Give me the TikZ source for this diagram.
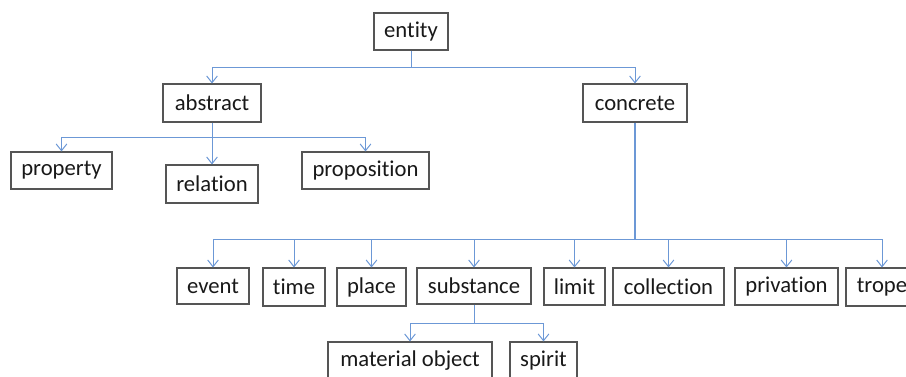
\documentclass[tikz,border=0pt]{standalone}
\usepackage{fontspec}
\setmainfont[Ligatures=NoCommon]{Carlito}
\usetikzlibrary{arrows.meta}
\definecolor{lineblue}{HTML}{6C98D6}
\definecolor{boxgray}{HTML}{555555}
\tikzset{
  box/.style 2 args={draw=boxgray, line width=0.8pt, inner sep=0pt, fill=white,
    minimum width=#1*0.75pt, minimum height=#2*0.75pt,
    font=\fontsize{17}{20}\selectfont, text=black!90},
  conn/.style={draw=lineblue, line width=0.75pt},
  arr/.style={conn, -{Straight Barb[length=5pt,width=8pt]}},
  trunk/.style={draw=lineblue, line width=1.4pt}
}
\begin{document}
\begin{tikzpicture}[x=0.75pt, y=-0.75pt]
\useasboundingbox (0,0) rectangle (906,376);
% nodes
\node[box={74}{37}] (entity) at (411,31.5) {entity};
\node[box={98}{38}] (abstract) at (212,103) {abstract};
\node[box={104}{38}] (concrete) at (635,103) {concrete};
\node[box={101}{37}] (property) at (61.5,170.5) {property};
\node[box={92}{38}] (relation) at (212,184) {relation};
\node[box={127}{37}] (proposition) at (365.5,170.5) {proposition};
\node[box={72}{36}] (event) at (213,286) {event};
\node[box={62}{38}] (time) at (294,287) {time};
\node[box={69}{38}] (place) at (371.5,287) {place};
\node[box={114}{36}] (substance) at (474,286) {substance};
\node[box={61}{37}] (limit) at (574.5,286.5) {limit};
\node[box={111}{37}] (collection) at (668.5,286.5) {collection};
\node[box={103}{37}] (privation) at (786.5,286.5) {privation};
\node[box={72}{38}] (trope) at (882,287) {trope};
\node[box={164}{38}] (material) at (410,361) {material object};
\node[box={67}{38}] (spirit) at (543.5,361) {spirit};
% junctions
\coordinate (j1) at (411,67.5);
\coordinate (j2) at (212,137);
\coordinate (j3) at (635,239);
\coordinate (j4) at (474,323);
% connectors
\draw[conn] (entity.south) -- (j1);
\draw[arr] (j1) -| (abstract.north);
\draw[arr] (j1) -| (concrete.north);
\draw[arr] (abstract.south) -- (relation.north);
\draw[arr] (j2) -| (property.north);
\draw[arr] (j2) -| (proposition.north);
\draw[trunk] (concrete.south) -- (j3);
\foreach \n in {event,time,place,substance,limit,collection,privation,trope}
  \draw[arr] (j3) -| (\n.north);
\draw[conn] (substance.south) -- (j4);
\draw[arr] (j4) -| (material.north);
\draw[arr] (j4) -| (spirit.north);
\end{tikzpicture}
\end{document}
